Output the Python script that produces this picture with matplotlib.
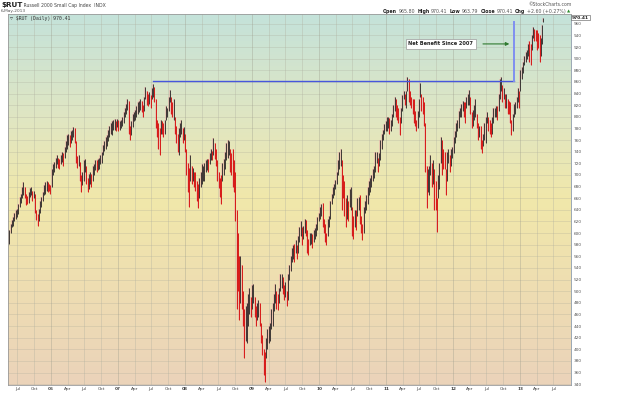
import matplotlib
matplotlib.use("Agg")
import matplotlib.pyplot as plt
import matplotlib.dates as mdates
from matplotlib.colors import LinearSegmentedColormap
import numpy as np
import pandas as pd

# ---------------- data (weekly ranges) ----------------
first_week = "2005-05-16"

week_low = [
    # 2005
    582, 600, 610, 612, 620, 625, 628, 632, 645, 652, 660, 665, 660, 648, 650, 652, 662,
    665, 655, 660, 635, 622, 612, 620, 635, 645, 655, 665, 668, 672, 670, 672, 668,
    # 2006
    680, 700, 705, 712, 718, 712, 710, 718, 722, 715, 730, 740, 745, 752, 748, 755, 760,
    765, 755, 720, 712, 715, 690, 670, 682, 690, 705, 685, 670, 675, 685, 680, 690, 700,
    708, 705, 708, 710, 718, 720, 735, 742, 745, 750, 758, 765, 770, 768, 778, 778, 775, 782,
    # 2007
    775, 778, 780, 785, 790, 800, 805, 812, 770, 760, 768, 782, 792, 795, 800, 805, 808,
    812, 808, 800, 810, 830, 820, 818, 822, 815, 830, 835, 825, 780, 765, 745, 735, 770,
    770, 765, 770, 795, 800, 810, 825, 805, 800, 795, 770, 755, 740, 735, 765, 770, 755, 760,
    740,
    # 2008
    700, 670, 645, 690, 685, 690, 680, 672, 655, 643, 660, 680, 685, 690, 690, 705, 708,
    705, 718, 725, 725, 735, 728, 715, 690, 678, 662, 650, 690, 700, 710, 725, 730, 735,
    705, 700, 680, 670, 620, 470, 500, 450, 480, 470, 440, 385, 415, 410, 440, 460, 455, 470,
    # 2009
    480, 455, 440, 450, 455, 440, 410, 390, 355, 343, 385, 400, 410, 415, 435, 440, 465,
    480, 470, 468, 480, 500, 505, 495, 485, 490, 475, 485, 520, 535, 550, 555, 550, 565,
    555, 565, 585, 595, 580, 590, 600, 595, 565, 562, 580, 582, 575, 585, 590, 595, 605, 620,
    # 2010
    625, 630, 610, 600, 585, 580, 595, 610, 625, 650, 660, 665, 675, 685, 700, 710, 715,
    640, 660, 630, 610, 625, 620, 645, 640, 595, 590, 610, 605, 630, 640, 615, 600, 588,
    600, 635, 640, 650, 665, 670, 680, 690, 695, 705, 720, 705, 715, 725, 745, 760, 770, 775,
    # 2011
    775, 780, 770, 775, 785, 800, 810, 800, 795, 790, 768, 790, 810, 830, 820, 815, 845,
    825, 820, 815, 805, 790, 785, 775, 780, 800, 835, 810, 805, 785, 705, 643, 670, 665,
    700, 680, 685, 640, 640, 601, 660, 675, 720, 700, 710, 710, 666, 690, 720, 705, 715, 730,
    # 2012
    738, 755, 765, 775, 780, 800, 800, 810, 800, 790, 815, 820, 820, 805, 780, 785, 795,
    800, 780, 760, 765, 745, 737, 750, 760, 755, 790, 775, 770, 765, 770, 790, 800, 800,
    795, 810, 830, 845, 825, 830, 815, 815, 805, 805, 790, 769, 775, 800, 805, 815, 825, 815,
    # 2013
    845, 865, 875, 890, 895, 900, 905, 895, 890, 915, 935, 930, 930, 915, 918, 895, 905,
    925, 964,
]

week_high = [
    # 2005
    605, 615, 622, 628, 635, 640, 642, 650, 662, 668, 680, 688, 680, 668, 664, 670, 678,
    680, 672, 672, 668, 640, 632, 642, 655, 662, 670, 682, 688, 690, 688, 685, 682,
    # 2006
    710, 718, 722, 730, 735, 730, 728, 735, 740, 738, 748, 758, 768, 770, 768, 775, 778,
    782, 780, 758, 732, 735, 722, 700, 705, 725, 728, 715, 695, 702, 705, 702, 715, 718,
    725, 725, 728, 730, 735, 740, 752, 758, 765, 768, 778, 785, 790, 792, 795, 796, 792, 797,
    # 2007
    795, 792, 795, 800, 808, 815, 822, 830, 828, 785, 792, 805, 808, 812, 818, 825, 828,
    830, 828, 820, 835, 852, 845, 840, 842, 838, 850, 856, 852, 830, 795, 790, 780, 795,
    792, 790, 795, 818, 815, 835, 846, 835, 825, 830, 800, 785, 770, 780, 790, 795, 780, 782,
    770,
    # 2008
    745, 720, 712, 735, 715, 712, 705, 705, 690, 685, 695, 705, 718, 715, 720, 725, 728,
    728, 738, 745, 742, 763, 755, 745, 725, 705, 695, 700, 720, 728, 740, 755, 760, 758,
    745, 738, 745, 725, 705, 640, 600, 560, 560, 545, 500, 470, 475, 480, 495, 505, 490, 510,
    # 2009
    512, 490, 475, 480, 485, 480, 445, 425, 400, 395, 420, 435, 440, 445, 470, 480, 495,
    512, 500, 495, 505, 530, 530, 525, 510, 515, 500, 530, 545, 560, 575, 580, 582, 588,
    580, 595, 610, 620, 610, 612, 625, 622, 605, 590, 600, 600, 598, 605, 608, 615, 628, 635,
    # 2010
    645, 650, 652, 625, 615, 600, 625, 630, 655, 668, 680, 685, 692, 705, 725, 740, 745,
    725, 700, 690, 660, 665, 655, 675, 680, 645, 630, 640, 640, 660, 662, 665, 630, 615,
    645, 655, 665, 680, 690, 695, 700, 710, 715, 740, 740, 730, 738, 760, 770, 778, 788, 792,
    # 2011
    800, 800, 798, 795, 805, 820, 835, 830, 820, 815, 800, 815, 838, 845, 840, 845, 868,
    865, 845, 835, 830, 830, 810, 795, 810, 830, 858, 840, 835, 825, 790, 715, 710, 715,
    735, 720, 725, 710, 690, 660, 700, 720, 765, 760, 745, 740, 710, 740, 745, 735, 745, 748,
    # 2012
    765, 775, 790, 795, 810, 815, 822, 828, 825, 825, 835, 840, 847, 835, 808, 812, 820,
    830, 805, 790, 785, 785, 760, 770, 790, 800, 808, 800, 795, 790, 800, 815, 815, 818,
    818, 840, 865, 868, 855, 850, 840, 840, 830, 828, 825, 795, 805, 822, 825, 835, 850, 845,
    # 2013
    880, 885, 895, 905, 912, 915, 925, 930, 925, 940, 955, 952, 950, 950, 945, 940, 935,
    958, 970,
]

price_ticks = list(range(340, 961, 20))
last_close = 970.41
quote_fields = [("Open", "965.80"), ("High", "970.41"), ("Low", "963.79"),
                ("Close", "970.41"), ("Chg", "+2.60 (+0.27%)")]
ref_level = 862          # 2007 high reference line
ref_top = 964
ref_start = "2007-07-09"
ref_end = "2012-11-28"
note_text = "Net Benefit Since 2007"

# ---------------- figure ----------------
W, H = 640, 394
fig = plt.figure(figsize=(W / 100, H / 100), dpi=100)
fig.patch.set_facecolor("white")
ax = fig.add_axes([8 / W, 9 / H, 563 / W, 371 / H])

dates = pd.date_range(first_week, periods=len(week_low), freq="7D") + pd.Timedelta(days=2)
xd = mdates.date2num(dates.to_pydatetime())
lo = np.array(week_low, dtype=float)
hi = np.array(week_high, dtype=float)

x0 = mdates.date2num(pd.Timestamp("2005-05-11"))
x1 = mdates.date2num(pd.Timestamp("2013-10-05"))
y0, y1 = 338.5, 977.0

# background gradient
cmap = LinearSegmentedColormap.from_list(
    "bg", [(0.0, "#EBD3BA"), (0.25, "#EEDDB2"), (0.5, "#F1E8AA"),
           (0.72, "#E0E6C2"), (1.0, "#C4E2DA")])
grad = np.linspace(0, 1, 256).reshape(-1, 1)
ax.imshow(grad, extent=[x0, x1, y0, y1], origin="lower", aspect="auto",
          cmap=cmap, zorder=0, interpolation="bilinear")

# grid
for p in price_ticks:
    ax.axhline(p, color="#a8a898", lw=0.45, alpha=0.42, zorder=1)
quarters = pd.date_range("2005-07-01", "2013-07-01", freq="QS")
for q in quarters:
    c = "#9a9a8a" if q.month == 1 else "#b0b0a0"
    ax.axvline(mdates.date2num(q), color=c, lw=0.5, alpha=0.5, zorder=1)

# bars
mid = (lo + hi) / 2
up = np.r_[True, mid[1:] >= mid[:-1]]
cols = np.where(up, "#222222", "#d40000")
ax.vlines(xd, lo, hi, colors="#eaa4a4", linewidth=1.35, alpha=0.5, zorder=2)
ax.vlines(xd, lo, hi, colors=cols, linewidth=0.6, zorder=3)

# reference lines and note
rs = mdates.date2num(pd.Timestamp(ref_start))
re_ = mdates.date2num(pd.Timestamp(ref_end))
ax.plot([rs, re_], [ref_level, ref_level], color="#4656dc", lw=1.0, zorder=4)
ax.plot([re_, re_], [ref_level, ref_top], color="#7f8ff0", lw=1.4, zorder=4)
ax.text(mdates.date2num(pd.Timestamp("2011-10-26")), 925.5, note_text,
        fontsize=3.6, fontweight="bold", color="#222", ha="center", va="center",
        zorder=6,
        bbox=dict(boxstyle="square,pad=0.55", fc="white", ec="#9a9a9a", lw=0.5))
ax.annotate("", xy=(mdates.date2num(pd.Timestamp("2012-11-18")), 925.5),
            xytext=(mdates.date2num(pd.Timestamp("2012-05-28")), 925.5),
            arrowprops=dict(arrowstyle="-|>", color="#2f7a2f", lw=0.8,
                            mutation_scale=5), zorder=6)

ax.set_xlim(x0, x1)
ax.set_ylim(y0, y1)

# axes styling
for s in ["left", "top", "bottom"]:
    ax.spines[s].set_color("#9a9a9a")
    ax.spines[s].set_linewidth(0.6)
ax.spines["right"].set_color("#8a9aa8")
ax.spines["right"].set_linestyle((0, (1, 1)))
ax.spines["right"].set_linewidth(0.6)

ax.yaxis.tick_right()
ax.set_yticks(price_ticks)
ax.set_yticklabels([str(p) for p in price_ticks])
ax.tick_params(axis="y", length=0, pad=2.2, labelsize=3.1, labelcolor="#555")

ax.set_xticks([mdates.date2num(q) for q in quarters])
labels = [q.strftime("%y") if q.month == 1 else q.strftime("%b") for q in quarters]
ax.set_xticklabels(labels)
for t, q in zip(ax.get_xticklabels(), quarters):
    if q.month == 1:
        t.set_fontweight("bold")
        t.set_color("#222")
ax.tick_params(axis="x", length=0, pad=1.6, labelsize=3.1, labelcolor="#444")

# last value box on the right axis
ax.text(1.002, (last_close - y0) / (y1 - y0), f"{last_close:.2f}",
        transform=ax.transAxes, fontsize=3.2, color="#222", ha="left", va="center",
        fontweight="bold",
        bbox=dict(boxstyle="square,pad=0.15", fc="white", ec="#555", lw=0.4))

# ---------------- header texts ----------------
def fp(x, y):
    return (x, H - y)

t = ax.annotate("$RUT", xy=fp(1, 5), xycoords="figure pixels", fontsize=5.2,
                fontweight="bold", color="#222", va="center", ha="left",
                annotation_clip=False, parse_math=False)
ax.annotate(" Russell 2000 Small Cap Index  INDX", xy=(1, 0.4), xycoords=t,
            fontsize=3.3, color="#444", va="center", ha="left",
            annotation_clip=False)
ax.annotate("6-May-2013", xy=fp(1, 11.3), xycoords="figure pixels", fontsize=3.1,
            color="#555", va="center", ha="left", annotation_clip=False)
ax.annotate("\u00a9StockCharts.com", xy=fp(572, 5), xycoords="figure pixels",
            fontsize=3.3, color="#555", va="center", ha="right",
            annotation_clip=False)

prev = None
start = fp(383, 11.3)
for k, (name, val) in enumerate(quote_fields):
    if prev is None:
        prev = ax.annotate(name, xy=start, xycoords="figure pixels", fontsize=3.4,
                           fontweight="bold", color="#222", va="center", ha="left",
                           annotation_clip=False)
    else:
        prev = ax.annotate(name, xy=(1, 0.5), xycoords=prev, xytext=(1.6, 0),
                           textcoords="offset points", fontsize=3.4,
                           fontweight="bold", color="#222", va="center",
                           ha="left", annotation_clip=False)
    prev = ax.annotate(val, xy=(1, 0.5), xycoords=prev, xytext=(1.0, 0),
                       textcoords="offset points", fontsize=3.4, color="#555",
                       va="center", ha="left", annotation_clip=False)
ax.annotate("\u25b2", xy=(1, 0.5), xycoords=prev, xytext=(1.0, 0),
            textcoords="offset points", fontsize=3.0, color="#2a8a2a",
            va="center", ha="left", annotation_clip=False)

ax.annotate("\u25bd $RUT (Daily) 970.41", xy=fp(10, 18.5), xycoords="figure pixels",
            fontsize=3.5, color="#333", va="center", ha="left",
            family=["DejaVu Sans Mono", "DejaVu Sans"], annotation_clip=False,
            parse_math=False)

fig.savefig("out.png", dpi=100, facecolor="white")
